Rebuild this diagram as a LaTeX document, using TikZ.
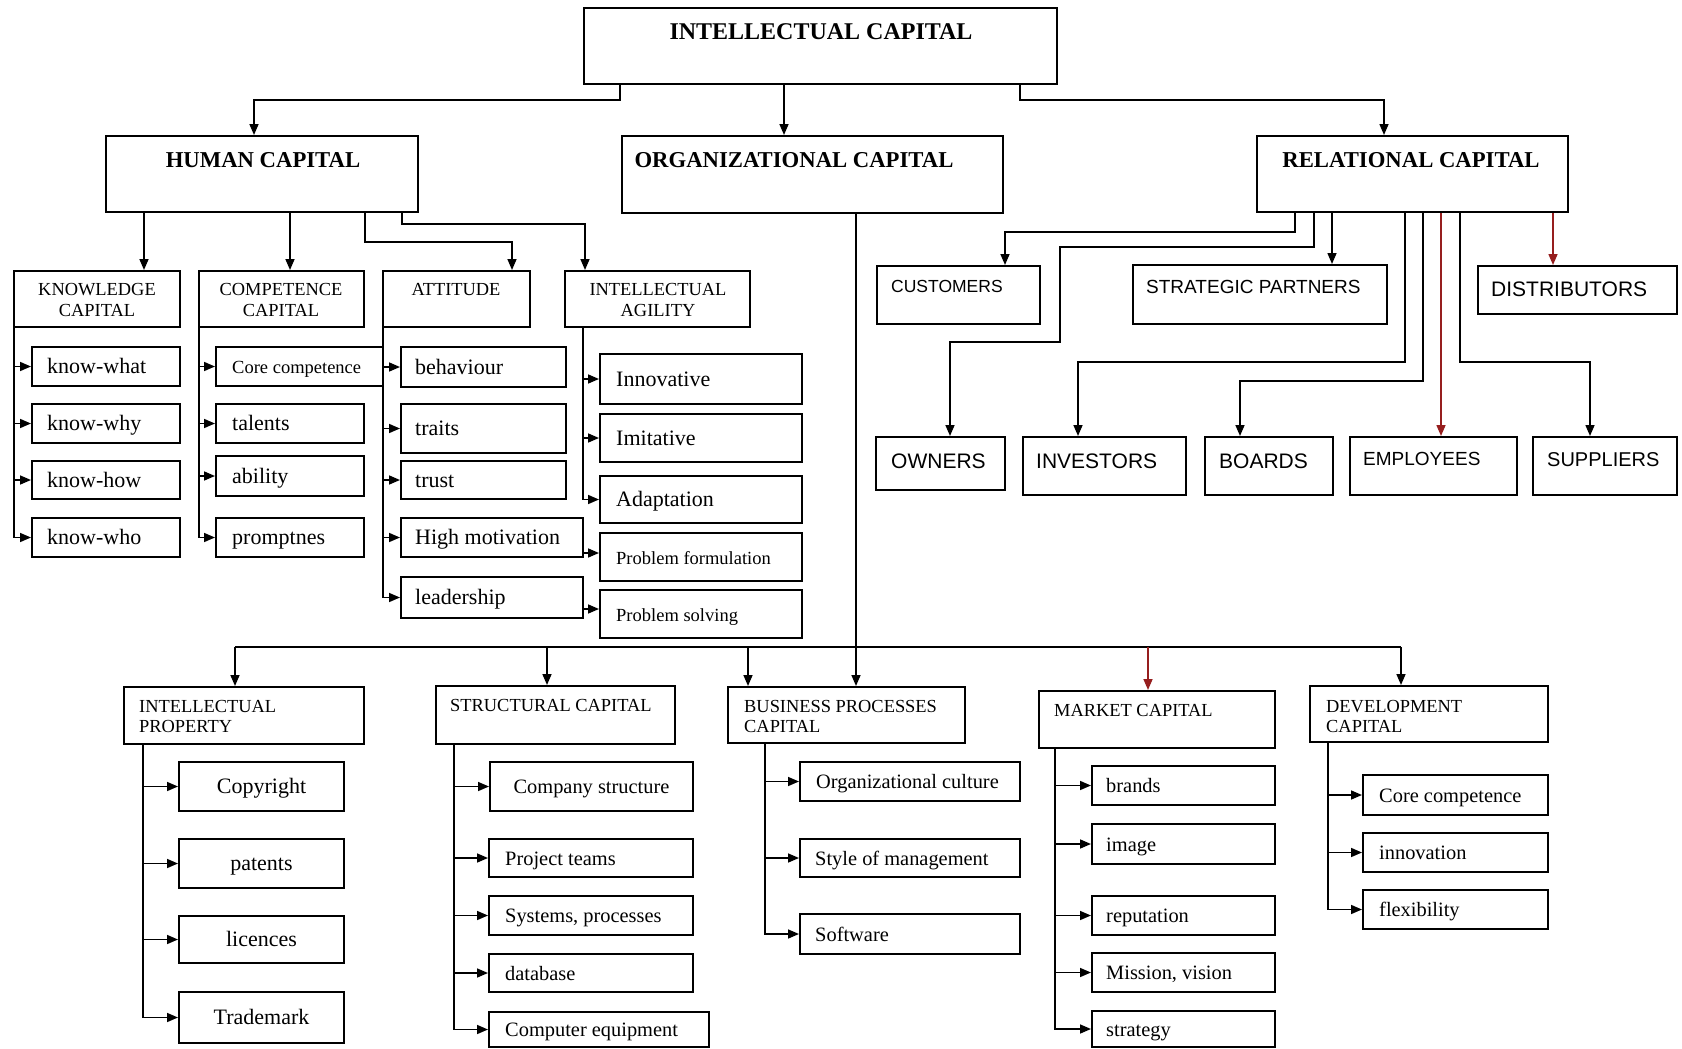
\documentclass[tikz,border=0pt]{standalone}
\usepackage{fontspec}
\setmainfont{Liberation Serif}
\newfontfamily\relsans{Liberation Sans}
\usetikzlibrary{arrows.meta}
\definecolor{dred}{RGB}{150,30,30}
\newcommand\fTop{\bfseries\fontsize{24}{28}\selectfont}
\newcommand\fMain{\bfseries\fontsize{22.7}{26}\selectfont}
\newcommand\fHead{\fontsize{18.4}{22}\selectfont}
\newcommand\fLeaf{\fontsize{22}{26}\selectfont}
\newcommand\fLeafB{\fontsize{20.4}{24}\selectfont}
\newcommand\fSmall{\fontsize{18.5}{22}\selectfont}
\newcommand\fRel{\relsans\fontsize{21}{25}\selectfont}
\newcommand\bx[5]{\node[box, minimum width={(#4-#2)*1pt}, minimum height={(#5-#3)*1pt}] (#1) at ({(#2+#4)/2},{(#3+#5)/2}) {};}
\newcommand\leafL[7]{\bx{#1}{#2}{#3}{#4}{#5}\node[t,anchor=base west] (#1-t) at ([xshift=#6pt,yshift=-7pt]#1.west) {#7};}
\newcommand\leafC[6]{\bx{#1}{#2}{#3}{#4}{#5}\node[t,anchor=base] (#1-t) at ([yshift=-7pt]#1.center) {#6};}
\tikzset{
  box/.style={draw, line width=2pt, inner sep=0pt},
  t/.style={inner sep=0pt, font=\fLeaf},
  hd/.style={inner sep=0pt, font=\fHead},
  rl/.style={inner sep=0pt, anchor=west},
  ln/.style={line width=1.6pt},
  arr/.style={line width=1.6pt, -{Triangle[length=11pt,width=9pt]}},
}
\begin{document}
\begin{tikzpicture}[x=1pt,y=-1pt]
\fill[white] (0,0) rectangle (1682,1049);
\useasboundingbox (0,0) rectangle (1682,1049);

% ---------- top level
\bx{IC}{584}{8}{1057}{84}
\node[inner sep=0pt, font=\fTop] (IC-t) at (821,32) {INTELLECTUAL CAPITAL};
\bx{HC}{106}{136}{418}{212}
\node[inner sep=0pt, font=\fMain] (HC-t) at (263,160) {HUMAN CAPITAL};
\bx{OC}{622}{136}{1003}{213}
\node[inner sep=0pt, font=\fMain] (OC-t) at (794,160) {ORGANIZATIONAL CAPITAL};
\bx{RC}{1257}{136}{1568}{212}
\node[inner sep=0pt, font=\fMain] (RC-t) at (1411,160) {RELATIONAL CAPITAL};

\coordinate (t1a) at (620,100); \coordinate (t1b) at (254,100);
\draw[arr] (IC.south -| t1a) -- (t1a) -- (t1b) -- (HC.north -| t1b);
\coordinate (t2) at (784,0);
\draw[arr] (IC.south -| t2) -- (OC.north -| t2);
\coordinate (t3a) at (1020,100); \coordinate (t3b) at (1384,100);
\draw[arr] (IC.south -| t3a) -- (t3a) -- (t3b) -- (RC.north -| t3b);

% ---------- human capital
\bx{KC}{14}{271}{180}{327}
\node[hd, align=center] (KC-t) at (97,300) {KNOWLEDGE\\[-1pt]CAPITAL};
\bx{CC}{199}{271}{364}{327}
\node[hd, align=center] (CC-t) at (281,300) {COMPETENCE\\[-1pt]CAPITAL};
\bx{AT}{383}{271}{530}{327}
\node[hd] (AT-t) at (456,290) {ATTITUDE};
\bx{IA}{565}{271}{750}{327}
\node[hd, align=center] (IA-t) at (658,300) {INTELLECTUAL\\[-1pt]AGILITY};

\coordinate (h1) at (144,0); \draw[arr] (HC.south -| h1) -- (KC.north -| h1);
\coordinate (h2) at (290,0); \draw[arr] (HC.south -| h2) -- (CC.north -| h2);
\coordinate (h3a) at (365,242); \coordinate (h3b) at (512,242);
\draw[arr] (HC.south -| h3a) -- (h3a) -- (h3b) -- (AT.north -| h3b);
\coordinate (h4a) at (402,224); \coordinate (h4b) at (585,224);
\draw[arr] (HC.south -| h4a) -- (h4a) -- (h4b) -- (IA.north -| h4b);

\leafL{kw1}{32}{347}{180}{386}{16}{know-what}
\leafL{kw2}{32}{404}{180}{443}{16}{know-why}
\leafL{kw3}{32}{461}{180}{499}{16}{know-how}
\leafL{kw4}{32}{518}{180}{557}{16}{know-who}
\leafL{cc1}{216}{347}{383}{386}{17}{{\fSmall Core competence}}
\leafL{cc2}{216}{404}{364}{443}{17}{talents}
\leafL{cc3}{216}{456}{364}{496}{17}{ability}
\leafL{cc4}{216}{518}{364}{557}{17}{promptnes}
\leafL{at1}{401}{347}{566}{387}{15}{behaviour}
\leafL{at2}{401}{404}{566}{453}{15}{traits}
\leafL{at3}{401}{461}{566}{499}{15}{trust}
\leafL{at4}{401}{518}{583}{557}{15}{High motivation}
\leafL{at5}{401}{577}{583}{618}{15}{leadership}
\leafL{ia1}{600}{354}{802}{404}{17}{Innovative}
\leafL{ia2}{600}{414}{802}{462}{17}{Imitative}
\leafL{ia3}{600}{476}{802}{523}{17}{Adaptation}
\leafL{ia4}{600}{533}{802}{581}{17}{{\fSmall Problem formulation}}
\leafL{ia5}{600}{590}{802}{638}{17}{{\fSmall Problem solving}}

\coordinate (kT) at (14,0); \coordinate (cT) at (199,0);
\coordinate (aT) at (383,0); \coordinate (iT) at (583,0);
\foreach \n in {kw1,kw2,kw3,kw4} \draw[arr] (KC.south -| kT) |- (\n.west);
\foreach \n in {cc1,cc2,cc3,cc4} \draw[arr] (CC.south -| cT) |- (\n.west);
\foreach \n in {at1,at2,at3,at4,at5} \draw[arr] (AT.south -| aT) |- (\n.west);
\foreach \n in {ia1,ia2,ia3} \draw[arr] (IA.south -| iT) |- (\n.west);
\coordinate (pf) at (583,553); \coordinate (ps) at (583,609);
\draw[arr] (at4.east |- pf) -- (ia4.west |- pf);
\draw[arr] (at5.east |- ps) -- (ia5.west |- ps);

% ---------- relational capital
\bx{cu}{877}{266}{1040}{324}
\node[rl, font={\relsans\fontsize{17.5}{20}\selectfont}] (cu-t) at (891,286) {CUSTOMERS};
\bx{sp}{1133}{265}{1387}{324}
\node[rl, font={\relsans\fontsize{19}{22}\selectfont}] (sp-t) at (1146,287) {STRATEGIC PARTNERS};
\bx{di}{1478}{266}{1677}{314}
\node[rl, font=\fRel] (di-t) at (1491,289) {DISTRIBUTORS};
\bx{ow}{876}{437}{1005}{490}
\node[rl, font=\fRel] (ow-t) at (891,461) {OWNERS};
\bx{iv}{1023}{437}{1186}{495}
\node[rl, font=\fRel] (iv-t) at (1036,461) {INVESTORS};
\bx{bo}{1205}{437}{1333}{495}
\node[rl, font=\fRel] (bo-t) at (1219,461) {BOARDS};
\bx{em}{1350}{437}{1517}{495}
\node[rl, font={\relsans\fontsize{19}{22}\selectfont}] (em-t) at (1363,459) {EMPLOYEES};
\bx{su}{1533}{437}{1677}{495}
\node[rl, font={\relsans\fontsize{20}{23}\selectfont}] (su-t) at (1547,460) {SUPPLIERS};

\coordinate (r1a) at (1295,232); \coordinate (r1b) at (1005,232);
\draw[arr] (RC.south -| r1a) -- (r1a) -- (r1b) -- (cu.north -| r1b);
\coordinate (r2a) at (1314,247); \coordinate (r2b) at (1060,247);
\coordinate (r2c) at (1060,342); \coordinate (r2d) at (950,342);
\draw[arr] (RC.south -| r2a) -- (r2a) -- (r2b) -- (r2c) -- (r2d) -- (ow.north -| r2d);
\coordinate (r3) at (1332,0);
\draw[arr] (RC.south -| r3) -- (sp.north -| r3);
\coordinate (r4a) at (1405,362); \coordinate (r4b) at (1078,362);
\draw[arr] (RC.south -| r4a) -- (r4a) -- (r4b) -- (iv.north -| r4b);
\coordinate (r5a) at (1423,381); \coordinate (r5b) at (1240,381);
\draw[arr] (RC.south -| r5a) -- (r5a) -- (r5b) -- (bo.north -| r5b);
\coordinate (r6) at (1441,0);
\draw[arr, dred] (RC.south -| r6) -- (em.north -| r6);
\coordinate (r7a) at (1460,362); \coordinate (r7b) at (1590,362);
\draw[arr] (RC.south -| r7a) -- (r7a) -- (r7b) -- (su.north -| r7b);
\coordinate (r8) at (1553,0);
\draw[arr, dred] (RC.south -| r8) -- (di.north -| r8);

% ---------- organizational capital
\bx{IP}{124}{687}{364}{744}
\node[hd, anchor=west, align=left] (IP-t) at (139,716) {INTELLECTUAL\\[-2pt]PROPERTY};
\bx{SC}{436}{686}{675}{744}
\node[hd, anchor=west] (SC-t) at (450,705) {STRUCTURAL CAPITAL};
\bx{BP}{728}{687}{965}{743}
\node[hd, anchor=west, align=left] (BP-t) at (744,716) {BUSINESS PROCESSES\\[-2pt]CAPITAL};
\bx{MC}{1039}{691}{1275}{748}
\node[hd, anchor=west] (MC-t) at (1054,710) {MARKET CAPITAL};
\bx{DC}{1310}{686}{1548}{742}
\node[hd, anchor=west, align=left] (DC-t) at (1326,716) {DEVELOPMENT\\[-2pt]CAPITAL};

\coordinate (oT) at (856,0);
\draw[arr] (OC.south -| oT) -- (BP.north -| oT);
\coordinate (b1) at (235,647); \coordinate (b2) at (547,647);
\coordinate (b3) at (748,647); \coordinate (b4) at (1148,647);
\coordinate (b5) at (1401,647);
\draw[ln] (b1) -- (b5);
\draw[arr] (b1) -- (IP.north -| b1);
\draw[arr] (b2) -- (SC.north -| b2);
\draw[arr] (b3) -- (BP.north -| b3);
\draw[arr, dred] (b4) -- (MC.north -| b4);
\draw[arr] (b5) -- (DC.north -| b5);

\leafC{ip1}{179}{762}{344}{811}{Copyright}
\leafC{ip2}{179}{839}{344}{888}{patents}
\leafC{ip3}{179}{916}{344}{963}{licences}
\leafC{ip4}{179}{992}{344}{1043}{Trademark}
\tikzset{t/.style={inner sep=0pt, font=\fLeafB}}
\leafC{sc1}{490}{762}{693}{811}{Company structure}
\leafL{sc2}{489}{839}{693}{877}{17}{Project teams}
\leafL{sc3}{489}{896}{693}{935}{17}{Systems, processes}
\leafL{sc4}{489}{954}{693}{992}{17}{database}
\leafL{sc5}{489}{1012}{709}{1047}{17}{Computer equipment}
\leafL{bp1}{800}{762}{1020}{801}{17}{Organizational culture}
\leafL{bp2}{800}{839}{1020}{877}{16}{Style of management}
\leafL{bp3}{800}{914}{1020}{954}{16}{Software}
\leafL{mc1}{1092}{766}{1275}{805}{15}{brands}
\leafL{mc2}{1092}{824}{1275}{864}{15}{image}
\leafL{mc3}{1092}{896}{1275}{935}{15}{reputation}
\leafL{mc4}{1092}{953}{1275}{992}{15}{Mission, vision}
\leafL{mc5}{1092}{1011}{1275}{1047}{15}{strategy}
\leafL{dc1}{1363}{775}{1548}{815}{17}{Core competence}
\leafL{dc2}{1363}{833}{1548}{872}{17}{innovation}
\leafL{dc3}{1363}{890}{1548}{929}{17}{flexibility}

\coordinate (pT) at (143,0); \coordinate (sT) at (454,0);
\coordinate (qT) at (765,0); \coordinate (mT) at (1055,0);
\coordinate (dT) at (1328,0);
\foreach \n in {ip1,ip2,ip3,ip4} \draw[arr] (IP.south -| pT) |- (\n.west);
\foreach \n in {sc1,sc2,sc3,sc4,sc5} \draw[arr] (SC.south -| sT) |- (\n.west);
\foreach \n in {bp1,bp2,bp3} \draw[arr] (BP.south -| qT) |- (\n.west);
\foreach \n in {mc1,mc2,mc3,mc4,mc5} \draw[arr] (MC.south -| mT) |- (\n.west);
\foreach \n in {dc1,dc2,dc3} \draw[arr] (DC.south -| dT) |- (\n.west);
\end{tikzpicture}
\end{document}
